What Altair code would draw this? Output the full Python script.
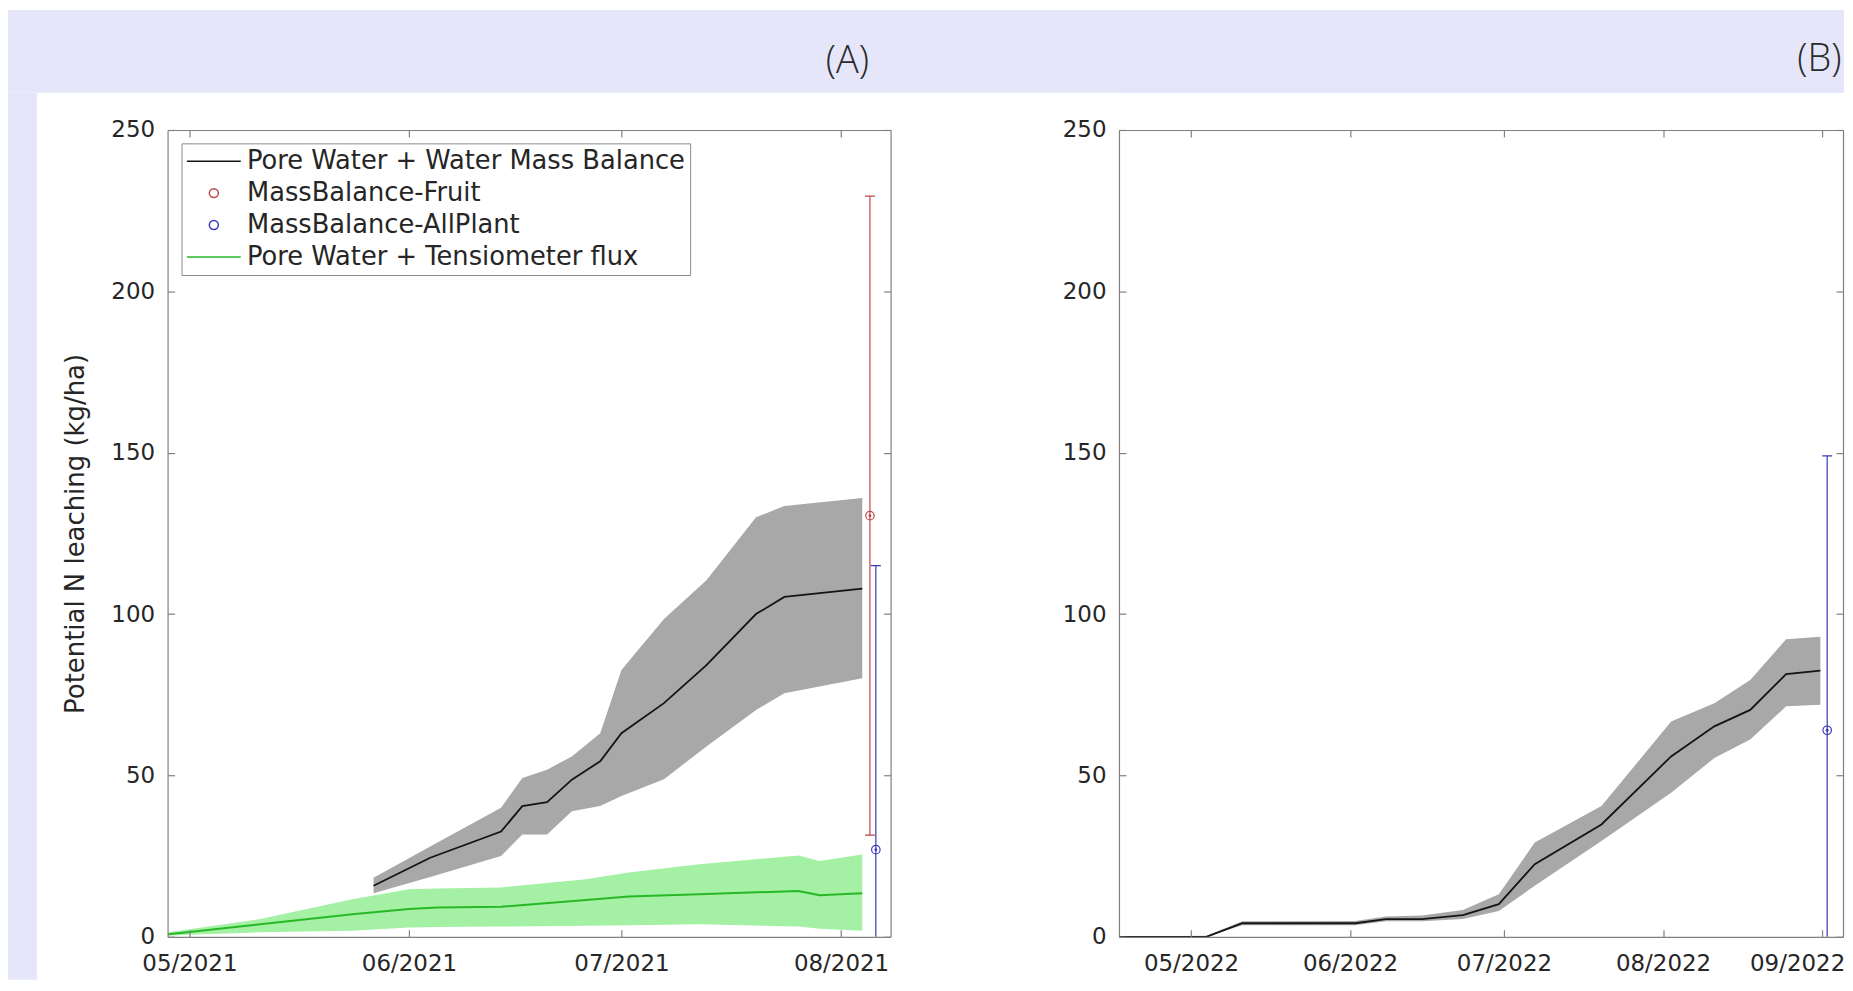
import altair as alt
import pandas as pd

# ---------------- data ----------------
SERIES = ["Pore Water + Water Mass Balance", "MassBalance-Fruit",
          "MassBalance-AllPlant", "Pore Water + Tensiometer flux"]

# Panel A (2021) - Pore Water + Water Mass Balance (mean and band)
A_WMB_DATES = ["2021-05-27", "2021-06-04", "2021-06-14", "2021-06-17", "2021-06-20T12",
               "2021-06-24", "2021-06-28", "2021-07-01", "2021-07-07", "2021-07-13",
               "2021-07-20", "2021-07-24", "2021-08-04"]
A_WMB_MEAN = [15.8, 24.5, 32.6, 40.5, 41.7, 48.7, 54.4, 63.1, 72.4, 84.2, 100.0, 105.3, 107.9]
A_WMB_LO = [13.5, 18.5, 25.0, 31.7, 31.7, 38.9, 40.5, 43.6, 48.8, 59.0, 70.3, 75.5, 80.1]
A_WMB_HI = [18.3, 28.0, 40.0, 49.2, 51.8, 55.9, 63.1, 82.7, 98.5, 110.5, 130.0, 133.5, 136.0]

# Panel A (2021) - Pore Water + Tensiometer flux
A_TEN_DATES = ["2021-04-28", "2021-05-01", "2021-05-11", "2021-05-24", "2021-06-01",
               "2021-06-05", "2021-06-14", "2021-06-26", "2021-07-02", "2021-07-12",
               "2021-07-26", "2021-07-29", "2021-08-04"]
A_TEN_MEAN = [0.8, 1.5, 3.9, 7.0, 8.6, 9.1, 9.3, 11.4, 12.5, 13.2, 14.2, 12.9, 13.5]
A_TEN_LO = [0.3, 0.6, 1.4, 1.9, 2.9, 3.0, 3.2, 3.4, 3.6, 3.9, 3.2, 2.5, 1.9]
A_TEN_HI = [1.4, 2.3, 5.5, 11.6, 14.7, 15.0, 15.3, 17.8, 19.9, 22.5, 25.2, 23.5, 25.5]

# Panel A mass-balance estimates with error bars
A_EB_SERIES = ["MassBalance-Fruit", "MassBalance-AllPlant"]
A_EB_DATES = ["2021-08-05T02", "2021-08-05T22"]
A_EB_VALUE = [130.5, 27.0]
A_EB_ERR = [99.0, 88.0]

# Panel B (2022) - Pore Water + Water Mass Balance
B_WMB_DATES = ["2022-04-17", "2022-05-04", "2022-05-11", "2022-06-02", "2022-06-08",
               "2022-06-15", "2022-06-23", "2022-06-30", "2022-07-07", "2022-07-20",
               "2022-08-02T14", "2022-08-11", "2022-08-18", "2022-08-25", "2022-08-31T16"]
B_WMB_MEAN = [0.0, 0.0, 4.2, 4.2, 5.5, 5.5, 6.7, 10.1, 22.5, 34.8, 55.9, 65.2, 70.3, 81.4, 82.5]
B_WMB_LO = [0.0, 0.0, 3.6, 3.6, 4.8, 4.8, 5.5, 8.0, 15.8, 29.7, 44.6, 55.4, 61.1, 71.4, 71.9]
B_WMB_HI = [0.0, 0.3, 4.8, 4.9, 6.3, 6.6, 8.3, 13.2, 29.2, 40.5, 66.7, 72.4, 79.6, 92.2, 93.0]

B_EB_SERIES = ["MassBalance-AllPlant"]
B_EB_DATES = ["2022-09-02T00"]
B_EB_VALUE = [64.0]
B_EB_ERR = [85.0]

Y_TICKS = [0, 50, 100, 150, 200, 250]
Y_TITLE = "Potential N leaching (kg/ha)"

# ---------------- styles ----------------
LAVENDER = "#E6E6FA"
BLACK = "#141414"
GRAY_BAND = "#a8a8a8"
GREEN = "#27b827"
GREEN_BAND = "#a4f0a4"
RED = "#bf4646"
BLUE = "#3838b8"
AXIS_GRAY = "#808080"
TEXT = "#262626"
FONT = "DejaVu Sans"
LINE_PATH = "M-6,0L6,0"
SERIES_COLORS = {SERIES[0]: BLACK, SERIES[1]: RED, SERIES[2]: BLUE, SERIES[3]: GREEN}

W_A, W_B, H = 725, 726, 809
LABEL_EXPR = "utcFormat(datum.value, '%m/%Y')"


def iso(s):
    if "T" in s:
        return s + ":00:00Z"
    return s + "T00:00:00Z"


def utc(y, m, d, h=0):
    return alt.DateTime(year=y, month=m, date=d, hours=h, utc=True)


def band_df(dates, mean, lo, hi):
    return pd.DataFrame({"date": [iso(d) for d in dates], "mean": mean, "lo": lo, "hi": hi})


def eb_df(series, dates, value, err):
    return pd.DataFrame({
        "series": series,
        "color": [SERIES_COLORS[s] for s in series],
        "date": [iso(d) for d in dates],
        "value": value,
        "lo": [v - e for v, e in zip(value, err)],
        "hi": [v + e for v, e in zip(value, err)],
    })


dfA = band_df(A_WMB_DATES, A_WMB_MEAN, A_WMB_LO, A_WMB_HI)
dfAT = band_df(A_TEN_DATES, A_TEN_MEAN, A_TEN_LO, A_TEN_HI)
dfAE = eb_df(A_EB_SERIES, A_EB_DATES, A_EB_VALUE, A_EB_ERR)
dfB = band_df(B_WMB_DATES, B_WMB_MEAN, B_WMB_LO, B_WMB_HI)
dfBE = eb_df(B_EB_SERIES, B_EB_DATES, B_EB_VALUE, B_EB_ERR)
dfLeg = pd.DataFrame({"series": SERIES})

y_scale = alt.Scale(domain=[0, 250], nice=False, zero=False)


def x_main(values, last_shift=None):
    kw = {}
    if last_shift is not None:
        kw["labelOffset"] = {"condition": {"test": "utcmonth(datum.value) === 8",
                                           "value": last_shift}, "value": 0}
        kw["labelFlush"] = False
    return alt.Axis(orient="bottom", offset=-H, values=values, labelExpr=LABEL_EXPR,
                    title=None, grid=False, tickSize=7, labelPadding=H + 9, zindex=1,
                    labelOverlap=False, **kw)


def x_second(values):
    return alt.Axis(orient="top", offset=-H, values=values, labels=False, title=None,
                    grid=False, tickSize=7, zindex=1)


def y_main(W, title):
    if title:
        return alt.Axis(orient="left", offset=-W, values=Y_TICKS, grid=False, tickSize=7,
                        labelPadding=W + 6, zindex=1, title=title,
                        titleX=-(W + 79), titleY=H / 2, titleAngle=270,
                        titleBaseline="bottom", titleAlign="center")
    return alt.Axis(orient="left", offset=-W, values=Y_TICKS, grid=False, tickSize=7,
                    labelPadding=W + 6, zindex=1, title=None)


def y_second(W):
    return alt.Axis(orient="right", offset=-W, values=Y_TICKS, labels=False, title=None,
                    grid=False, tickSize=7, zindex=1)


def rect_layer(color, x1, x2, y1, y2):
    return alt.Chart(alt.Data(values=[{}])).mark_rect(color=color).encode(
        x=alt.value(x1), x2=alt.value(x2), y=alt.value(y1), y2=alt.value(y2))


def errorbar_layers(df, xs):
    base = alt.Chart(df)
    xenc = alt.X("date:T", scale=xs, axis=None)
    col = alt.Color("color:N", scale=None)
    rules = base.mark_rule(strokeWidth=1.2, clip=True).encode(
        x=xenc, y=alt.Y("lo:Q", scale=y_scale, axis=None), y2="hi:Q", color=col)
    caps = base.transform_fold(["lo", "hi"], as_=["end", "yv"]).mark_tick(
        orient="horizontal", size=10, thickness=1.2, clip=True, opacity=1).encode(
        x=xenc, y=alt.Y("yv:Q", scale=y_scale, axis=None), color=col)
    circles = base.mark_point(shape="circle", filled=False, size=72, strokeWidth=1.2,
                              opacity=1).encode(
        x=xenc, y=alt.Y("value:Q", scale=y_scale, axis=None), color=col)
    dots = base.mark_point(shape="circle", filled=True, size=8, opacity=1).encode(
        x=xenc, y=alt.Y("value:Q", scale=y_scale, axis=None), color=col)
    return [rules, caps, circles, dots]


# ---------------- panel A ----------------
xA = alt.Scale(type="utc", domain=[utc(2021, 4, 27, 22), utc(2021, 8, 8)], nice=False)
xA_vals = [utc(2021, m, 1) for m in (5, 6, 7, 8)]

top_off = -120.3
bandA = rect_layer(LAVENDER, -160, 1681, top_off, -37.3)
stripA = rect_layer(LAVENDER, -160, -131, -37.3, 852)

grayA = alt.Chart(dfA).mark_area(color=GRAY_BAND, opacity=1).encode(
    x=alt.X("date:T", scale=xA, axis=None),
    y=alt.Y("lo:Q", scale=y_scale, axis=None), y2="hi:Q")
greenBandA = alt.Chart(dfAT).mark_area(color=GREEN_BAND, opacity=1).encode(
    x=alt.X("date:T", scale=xA, axis=None),
    y=alt.Y("lo:Q", scale=y_scale, axis=None), y2="hi:Q")
lineA = alt.Chart(dfA).mark_line(color=BLACK, strokeWidth=1.8).encode(
    x=alt.X("date:T", scale=xA, axis=x_main(xA_vals)),
    y=alt.Y("mean:Q", scale=y_scale, axis=y_main(W_A, Y_TITLE)))
greenA = alt.Chart(dfAT).mark_line(color=GREEN, strokeWidth=2).encode(
    x=alt.X("date:T", scale=xA, axis=x_second(xA_vals)),
    y=alt.Y("mean:Q", scale=y_scale, axis=y_second(W_A)))

legend_def = alt.Legend(
    title=None, orient="none", legendX=14, legendY=13.4, direction="vertical",
    labelFont=FONT, labelFontSize=25.8, labelColor=TEXT, labelLimit=700,
    symbolSize=81, symbolStrokeWidth=1.5, symbolOffset=14.5, labelOffset=20.3,
    symbolOpacity=1, rowPadding=5, padding=5, strokeColor="#8c8c8c",
    fillColor="white", cornerRadius=0)
legendA = alt.Chart(dfLeg).mark_point(filled=False, size=81, strokeWidth=1.5, opacity=0).encode(
    color=alt.Color("series:N", scale=alt.Scale(domain=SERIES,
                    range=[SERIES_COLORS[s] for s in SERIES]), legend=legend_def),
    shape=alt.Shape("series:N", scale=alt.Scale(domain=SERIES,
                    range=[LINE_PATH, "circle", "circle", LINE_PATH]), legend=legend_def))

panelA = alt.layer(bandA, stripA, grayA, greenBandA, lineA, greenA,
                   *errorbar_layers(dfAE, xA), legendA).properties(
    width=W_A, height=H,
    title=alt.TitleParams(text="(A)", anchor="end", frame="group", orient="top", offset=0,
                          dx=-21.5, dy=90.5, baseline="middle", font="Open Sans",
                          fontSize=38, fontWeight=300, color="#2a2a2a"))

# ---------------- panel B ----------------
xB = alt.Scale(type="utc", domain=[utc(2022, 4, 16, 23), utc(2022, 9, 5, 2)], nice=False)
xB_vals = [utc(2022, m, 1) for m in (5, 6, 7, 8, 9)]

bandB = rect_layer(LAVENDER, 0, W_B, top_off, -37.3)
grayB = alt.Chart(dfB).mark_area(color=GRAY_BAND, opacity=1).encode(
    x=alt.X("date:T", scale=xB, axis=x_second(xB_vals)),
    y=alt.Y("lo:Q", scale=y_scale, axis=y_second(W_B)), y2="hi:Q")
lineB = alt.Chart(dfB).mark_line(color=BLACK, strokeWidth=1.8).encode(
    x=alt.X("date:T", scale=xB, axis=x_main(xB_vals, last_shift=-25)),
    y=alt.Y("mean:Q", scale=y_scale, axis=y_main(W_B, None)))

panelB = alt.layer(bandB, grayB, lineB, *errorbar_layers(dfBE, xB)).properties(
    width=W_B, height=H,
    title=alt.TitleParams(text="(B)", anchor="end", frame="group", orient="top", offset=0,
                          dx=-1.5, dy=87.9, baseline="middle", font="Open Sans",
                          fontSize=38, fontWeight=300, color="#2a2a2a"))

chart = alt.hconcat(panelA, panelB, spacing=229, bounds="flush").properties(
    background="white", padding=0
).configure_view(strokeWidth=0).configure_axis(
    labelFont=FONT, labelFontSize=23, labelColor=TEXT,
    tickColor=AXIS_GRAY, tickWidth=1.2, domainColor=AXIS_GRAY, domainWidth=1.2,
    titleFont=FONT, titleFontSize=26, titleFontWeight="normal", titleColor=TEXT,
    grid=False)

chart.save("out.html", embed_options={"renderer": "svg", "actions": False})
